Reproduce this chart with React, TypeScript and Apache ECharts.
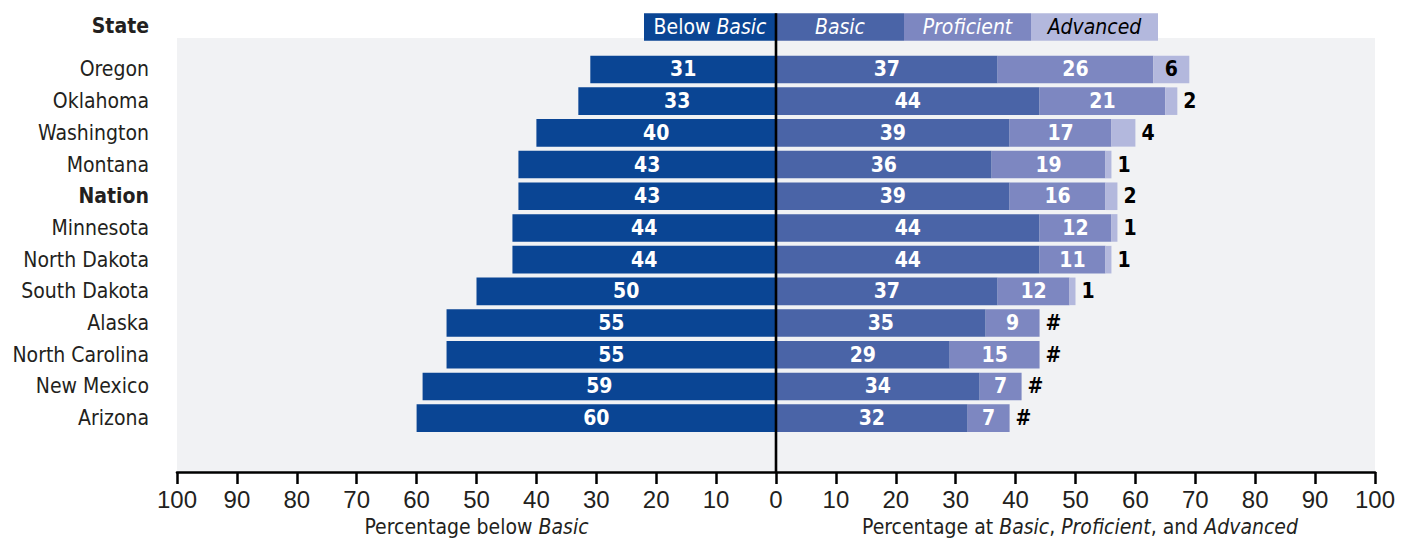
import React, { useEffect, useRef } from "react";
import * as echarts from "echarts";

const categories = [
  "Oregon",
  "Oklahoma",
  "Washington",
  "Montana",
  "Nation",
  "Minnesota",
  "North Dakota",
  "South Dakota",
  "Alaska",
  "North Carolina",
  "New Mexico",
  "Arizona",
];
const belowBasic = [31, 33, 40, 43, 43, 44, 44, 50, 55, 55, 59, 60];
const basic = [37, 44, 39, 36, 39, 44, 44, 37, 35, 29, 34, 32];
const proficient = [26, 21, 17, 19, 16, 12, 11, 12, 9, 15, 7, 7];
// 0 = rounds to zero, shown as "#"
const advanced = [6, 2, 4, 1, 2, 1, 1, 1, 0, 0, 0, 0];

const NARROW = '"DejaVu Sans Condensed", "Liberation Sans Narrow", sans-serif';
const WIDE = '"Liberation Sans", Arial, sans-serif';
const TEXT = "#231f20";
const C_BELOW = "#0a4594";
const C_BASIC = "#4a64a7";
const C_PROF = "#7d87c1";
const C_ADV = "#b3b8dd";
const FS = 21;

export default function App() {
  const ref = useRef<HTMLDivElement>(null);

  useEffect(() => {
    if (!ref.current) return;
    const chart = echarts.init(ref.current, null, { renderer: "svg" });

    const gridLeft = 177;
    const gridRight = 38;
    const gridTop = 53.6;
    const gridHeight = 380.4;
    const zeroX = 776;

    const barLabel = {
      show: true,
      position: "inside",
      color: "#ffffff",
      fontFamily: NARROW,
      fontWeight: "bold",
      fontSize: 21,
    };

    const option: any = {
      animation: false,
      backgroundColor: "#ffffff",
      grid: {
        left: gridLeft,
        right: gridRight,
        top: gridTop,
        height: gridHeight,
        containLabel: false,
      },
      xAxis: {
        type: "value",
        min: -100,
        max: 100,
        interval: 10,
        position: "bottom",
        offset: 38,
        axisLine: { show: true, lineStyle: { color: "#000", width: 2.6 } },
        axisTick: { show: true, length: 12, lineStyle: { color: "#000", width: 2.5 } },
        splitLine: { show: false },
        axisLabel: {
          margin: 15,
          fontFamily: WIDE,
          fontSize: 24,
          color: TEXT,
          formatter: (v: number) => String(Math.abs(v)),
        },
      },
      yAxis: {
        type: "category",
        data: categories,
        inverse: true,
        axisLine: { show: false, onZero: false },
        axisTick: { show: false },
        splitLine: { show: false },
        axisLabel: {
          interval: 0,
          margin: 28,
          fontFamily: NARROW,
          fontSize: FS,
          color: TEXT,
          formatter: (v: string) => (v === "Nation" ? "{b|Nation}" : v),
          rich: {
            b: { fontFamily: NARROW, fontSize: FS, fontWeight: "bold", color: TEXT },
          },
        },
      },
      series: [
        {
          name: "Below Basic",
          type: "bar",
          stack: "total",
          barWidth: 27.6,
          data: belowBasic.map((v) => -v),
          itemStyle: { color: C_BELOW },
          label: { ...barLabel, formatter: (p: any) => String(Math.abs(p.value)) },
        },
        {
          name: "Basic",
          type: "bar",
          stack: "total",
          barWidth: 27.6,
          data: basic,
          itemStyle: { color: C_BASIC },
          label: { ...barLabel },
        },
        {
          name: "Proficient",
          type: "bar",
          stack: "total",
          barWidth: 27.6,
          data: proficient,
          itemStyle: { color: C_PROF },
          label: { ...barLabel },
        },
        {
          name: "Advanced",
          type: "bar",
          stack: "total",
          barWidth: 27.6,
          data: advanced.map((v) => ({
            value: v,
            label: { position: v >= 5 ? "inside" : "right" },
          })),
          itemStyle: { color: C_ADV },
          label: {
            ...barLabel,
            color: "#000000",
            distance: 6,
            formatter: (p: any) => (p.value === 0 ? "#" : String(p.value)),
          },
        },
      ],
      graphic: [
        {
          type: "rect",
          z: -10,
          silent: true,
          shape: { x: gridLeft, y: 38, width: 1413 - gridLeft - gridRight, height: 472 - 38 },
          style: { fill: "#f1f2f4" },
        },
        // header legend strip
        { type: "rect", z: 50, shape: { x: 644, y: 13.3, width: zeroX - 644, height: 27.4 }, style: { fill: C_BELOW } },
        { type: "rect", z: 50, shape: { x: zeroX, y: 13.3, width: 904 - zeroX, height: 27.4 }, style: { fill: C_BASIC } },
        { type: "rect", z: 50, shape: { x: 904, y: 13.3, width: 1031 - 904, height: 27.4 }, style: { fill: C_PROF } },
        { type: "rect", z: 50, shape: { x: 1031, y: 13.3, width: 1158 - 1031, height: 27.4 }, style: { fill: C_ADV } },
        {
          type: "text",
          z: 60,
          style: {
            x: 710,
            y: 27,
            text: "{n|Below }{i|Basic}",
            align: "center",
            verticalAlign: "middle",
            rich: {
              n: { fill: "#fff", fontFamily: NARROW, fontSize: FS },
              i: { fill: "#fff", fontFamily: NARROW, fontSize: FS, fontStyle: "italic" },
            },
          },
        },
        {
          type: "text",
          z: 60,
          style: { x: 840, y: 27, text: "Basic", align: "center", verticalAlign: "middle", fill: "#fff", fontFamily: NARROW, fontSize: FS, fontStyle: "italic" },
        },
        {
          type: "text",
          z: 60,
          style: { x: 967.5, y: 27, text: "Proficient", align: "center", verticalAlign: "middle", fill: "#fff", fontFamily: NARROW, fontSize: FS, fontStyle: "italic" },
        },
        {
          type: "text",
          z: 60,
          style: { x: 1094.5, y: 27, text: "Advanced", align: "center", verticalAlign: "middle", fill: "#000", fontFamily: NARROW, fontSize: FS, fontStyle: "italic" },
        },
        // State header
        {
          type: "text",
          z: 60,
          style: { x: 149, y: 26, text: "State", align: "right", verticalAlign: "middle", fill: TEXT, fontFamily: NARROW, fontSize: FS, fontWeight: "bold" },
        },
        // zero line
        {
          type: "line",
          z: 100,
          shape: { x1: zeroX, y1: 13.3, x2: zeroX, y2: 472 },
          style: { stroke: "#000", lineWidth: 2.6 },
        },
        // axis titles
        {
          type: "text",
          z: 60,
          style: {
            x: (gridLeft + zeroX) / 2,
            y: 527,
            text: "{n|Percentage below }{i|Basic}",
            align: "center",
            verticalAlign: "middle",
            rich: {
              n: { fill: TEXT, fontFamily: NARROW, fontSize: FS },
              i: { fill: TEXT, fontFamily: NARROW, fontSize: FS, fontStyle: "italic" },
            },
          },
        },
        {
          type: "text",
          z: 60,
          style: {
            x: 1080,
            y: 527,
            text: "{n|Percentage at }{i|Basic}{n|, }{i|Proficient}{n|, and }{i|Advanced}",
            align: "center",
            verticalAlign: "middle",
            rich: {
              n: { fill: TEXT, fontFamily: NARROW, fontSize: FS },
              i: { fill: TEXT, fontFamily: NARROW, fontSize: FS, fontStyle: "italic" },
            },
          },
        },
      ],
    };

    chart.setOption(option);
    return () => {
      chart.dispose();
    };
  }, []);

  return (
    <div
      ref={ref}
      style={{ position: "absolute", left: 0, top: 0, width: 1413, height: 540 }}
    />
  );
}
